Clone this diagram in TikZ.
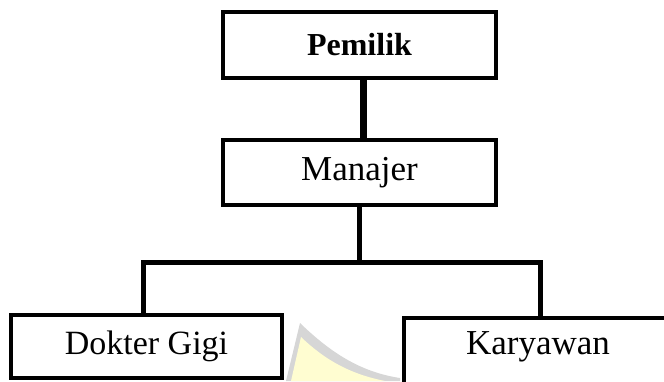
\documentclass[tikz,border=0pt]{standalone}
\usepackage{fontspec}
\setmainfont{Liberation Serif}
\usetikzlibrary{calc}
\begin{document}
\begin{tikzpicture}[x=1pt,y=-1pt,
  box/.style={draw=black, line width=4.5pt, fill=white, inner sep=0pt, font=\fontsize{34}{38}\selectfont},
  lbl/.style={inner sep=0pt, font=\fontsize{35}{38}\selectfont},
  conn/.style={draw=black, line width=5pt, line join=miter, line cap=butt}]
\useasboundingbox (0,0) rectangle (664,381);
\clip (0,0) rectangle (664,381);
% faint watermark
\fill[black!16] (286,381) -- (300,323) .. controls (330,352) and (360,372) .. (400,378) -- (400,381) -- cycle;
\fill[yellow!18] (291,381) -- (301,337) .. controls (325,360) and (350,374) .. (385,381) -- cycle;
% boxes
\node[box, font=\fontsize{32}{36}\selectfont\bfseries, minimum width=273pt, minimum height=66pt] (pemilik) at (359.5,45) {Pemilik};
\node[box, font=\fontsize{35}{38}\selectfont, minimum width=273pt, minimum height=65pt] (manajer) at (359.5,172.5) {Manajer};
\node[box, minimum width=271pt, minimum height=63pt] (dokter) at (146.5,346.5) {Dokter Gigi};
\node[box, minimum width=296pt, minimum height=82pt] (kbox) at (552,359) {};
\node[lbl] (karyawan) at (538,347) {Karyawan};
% connectors
\coordinate (lft) at (143,262);
\coordinate (rgt) at (540,262);
\draw[conn, line width=7pt] ($(pemilik.south)+(3.5,0)$) -- ($(manajer.north)+(3.5,0)$);
\draw[conn] (manajer.south) -- (manajer.south |- lft);
\draw[conn] (lft |- dokter.north) -- (lft) -- (rgt) -- (rgt |- kbox.north);
\end{tikzpicture}
\end{document}
